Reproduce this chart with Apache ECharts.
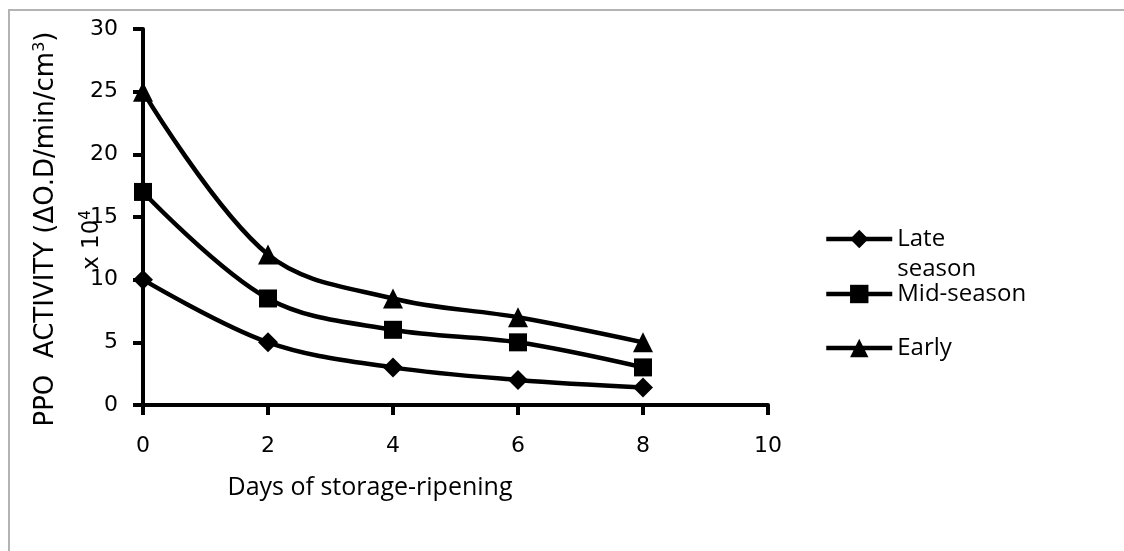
<!DOCTYPE html>
<html>
<head>
<meta charset="utf-8">
<script src="https://cdn.jsdelivr.net/npm/echarts@6/dist/echarts.min.js"></script>
<style>
html,body{margin:0;padding:0;background:#fff;}
#chart{width:1124px;height:551px;}
</style>
</head>
<body>
<div id="chart"></div>
<script>
const days = [0, 2, 4, 6, 8];
const lateSeason = [10, 5, 3, 2, 1.4];
const midSeason = [17, 8.5, 6, 5, 3];
const earlySeason = [25, 12, 8.5, 7, 5];
const seriesNames = ['Late season', 'Mid-season', 'Early season'];
const xTicks = [0, 2, 4, 6, 8, 10];
const yTicks = [0, 5, 10, 15, 20, 25, 30];

const FONT = 'DejaVu Sans';
const FONT2 = 'Open Sans';
const chart = echarts.init(document.getElementById('chart'), null, {renderer: 'canvas'});

function pairs(vals) { return days.map((d, i) => [d, vals[i]]); }

const mkSeries = (name, vals, symbol, size) => ({
  name: name,
  type: 'line',
  data: pairs(vals),
  smooth: 0.35,
  symbol: symbol,
  symbolSize: size,
  itemStyle: {color: '#000'},
  lineStyle: {color: '#000', width: 4.5},
  z: 3
});

const legendBase = {
  orient: 'vertical',
  left: 824,
  padding: 0,
  itemWidth: 66,
  itemHeight: 23,
  itemGap: 0,
  selectedMode: false,
  lineStyle: {width: 4.5},
  textStyle: {fontFamily: FONT2, fontSize: 24, color: '#000', lineHeight: 30}
};

const option = {
  backgroundColor: '#fff',
  animation: false,
  grid: {left: 143, top: 29, width: 625, height: 376, containLabel: false},
  xAxis: {
    type: 'value', min: 0, max: 10, interval: 2,
    axisLine: {show: true, lineStyle: {color: '#000', width: 4}},
    axisTick: {show: true, length: 10, lineStyle: {color: '#000', width: 4}},
    axisLabel: {fontFamily: FONT, fontSize: 22, color: '#000', margin: 30,
      formatter: v => xTicks.includes(v) ? String(v) : ''},
    splitLine: {show: false}
  },
  yAxis: {
    type: 'value', min: 0, max: 30, interval: 5,
    axisLine: {show: true, lineStyle: {color: '#000', width: 4}},
    axisTick: {show: true, length: 10, lineStyle: {color: '#000', width: 4}},
    axisLabel: {fontFamily: FONT, fontSize: 22, color: '#000', margin: 25,
      formatter: v => yTicks.includes(v) ? String(v) : ''},
    splitLine: {show: false}
  },
  legend: [
    Object.assign({}, legendBase, {
      top: 239 - 45, data: [seriesNames[0]],
      formatter: () => ' \nLate\nseason'
    }),
    Object.assign({}, legendBase, {top: 294 - 15, data: [seriesNames[1]]}),
    Object.assign({}, legendBase, {top: 348 - 15, data: [seriesNames[2]], formatter: () => 'Early'})
  ],
  series: [
    mkSeries(seriesNames[0], lateSeason, 'diamond', 20),
    mkSeries(seriesNames[1], midSeason, 'rect', 18),
    mkSeries(seriesNames[2], earlySeason, 'triangle', 20)
  ],
  graphic: [
    {type: 'rect', shape: {x: 9, y: 10, width: 1200, height: 600},
      style: {fill: 'none', stroke: '#b3b3b3', lineWidth: 2}, silent: true},
    {type: 'text', x: 370, y: 488,
      style: {text: 'Days of storage-ripening', fontFamily: FONT2, fontSize: 25, fill: '#000',
        align: 'center', verticalAlign: 'middle'}},
    {type: 'text', x: 46, y: 229, rotation: Math.PI / 2,
      style: {text: 'PPO  ACTIVITY (ΔO.D/min/cm{sup|3})', fontFamily: FONT, fontSize: 26, fill: '#000',
        align: 'center', verticalAlign: 'middle',
        rich: {sup: {fontFamily: FONT, fontSize: 16, padding: [0, 0, 13, 0]}}}},
    {type: 'text', x: 92, y: 240, rotation: Math.PI / 2,
      style: {text: 'x 10{sup|4}', fontFamily: FONT, fontSize: 23, fill: '#000',
        align: 'center', verticalAlign: 'middle',
        rich: {sup: {fontFamily: FONT, fontSize: 15, padding: [0, 0, 12, 0]}}}}
  ]
};
chart.setOption(option);
</script>
</body>
</html>
